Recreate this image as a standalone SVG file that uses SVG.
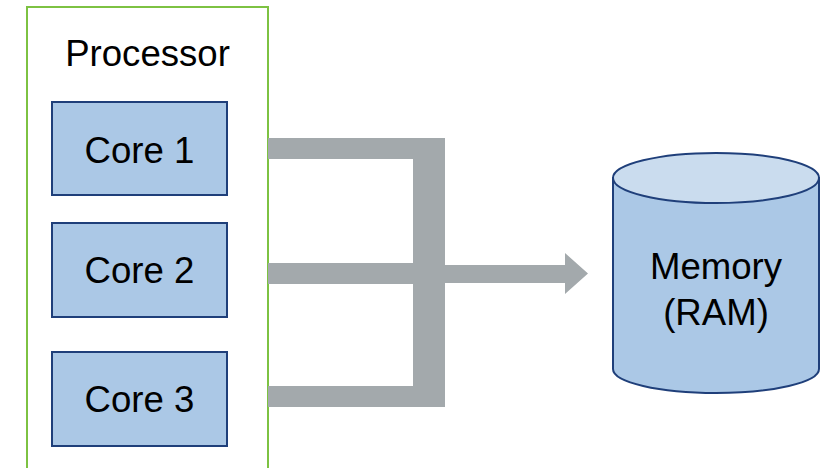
<svg xmlns="http://www.w3.org/2000/svg" width="820" height="468" viewBox="0 0 820 468">
  <style>
    .label { font-family: "Liberation Sans", Arial, sans-serif; font-size: 36.6px; fill: #000; text-anchor: middle; }
    .core { fill: #abc8e6; stroke: #1f3f7a; stroke-width: 2; }
    .bus { fill: #a3a9ac; }
  </style>
  <rect width="820" height="468" fill="#fff"/>

  <!-- processor package, open at the bottom edge -->
  <g id="processor">
    <rect x="27" y="7" width="241" height="480" fill="#fff" stroke="#7dc242" stroke-width="2"/>
    <text class="label" x="147.5" y="66">Processor</text>
  </g>

  <g id="core1">
    <rect class="core" x="52" y="102" width="175" height="93"/>
    <text class="label" x="139.5" y="163">Core 1</text>
  </g>
  <g id="core2">
    <rect class="core" x="52" y="223" width="175" height="94"/>
    <text class="label" x="139.5" y="283">Core 2</text>
  </g>
  <g id="core3">
    <rect class="core" x="52" y="352" width="175" height="94"/>
    <text class="label" x="139.5" y="412">Core 3</text>
  </g>

  <!-- shared bus from the cores to memory -->
  <g id="connectors">
    <rect class="bus" x="268" y="138" width="177" height="21"/>
    <rect class="bus" x="268" y="263" width="177" height="21"/>
    <rect class="bus" x="268" y="386" width="177" height="21"/>
    <rect class="bus" x="413" y="138" width="32" height="269"/>
    <polygon class="bus" points="445,265 565,265 565,253 588,273.5 565,294 565,283 445,283"/>
  </g>

  <g id="memory">
    <path d="M613,178 L613,369 A103,24 0 0 0 819,369 L819,178 Z" fill="#abc8e6" stroke="#1f3f7a" stroke-width="2"/>
    <ellipse cx="716" cy="178" rx="103" ry="25" fill="#cadcee" stroke="#1f3f7a" stroke-width="2"/>
    <text class="label" x="716" y="279">Memory</text>
    <text class="label" x="716" y="325">(RAM)</text>
  </g>
</svg>
